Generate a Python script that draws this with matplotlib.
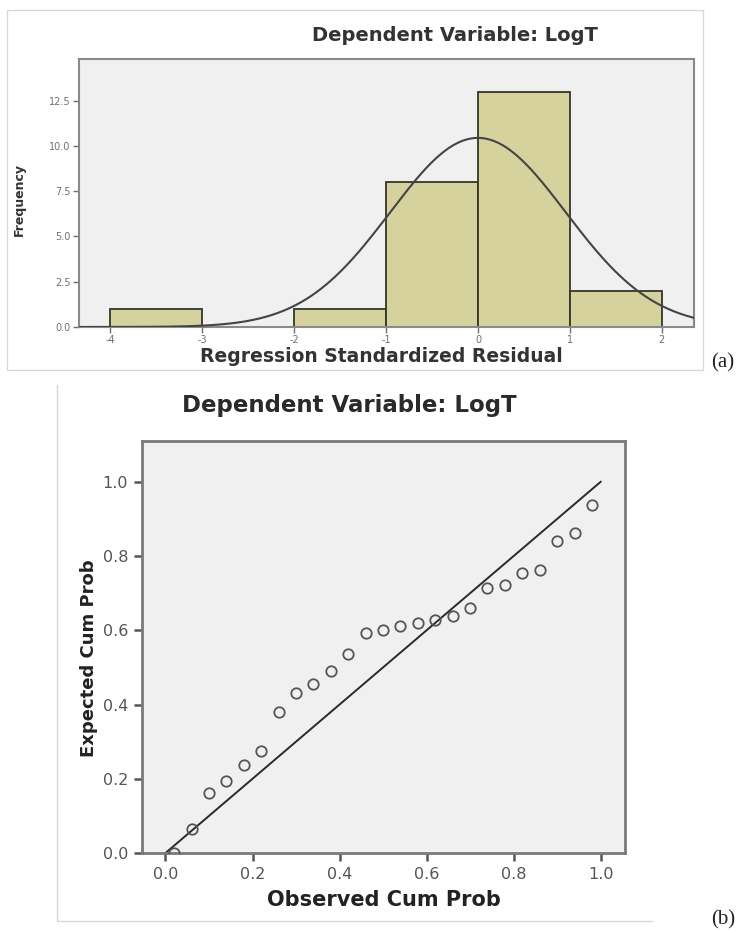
import numpy as np
import matplotlib
matplotlib.use("Agg")
import matplotlib.pyplot as plt
from matplotlib.patches import Rectangle
from matplotlib.lines import Line2D

# (a) histogram of standardized residuals
bin_edges = [-4, -3, -2, -1, 0, 1, 2]
bin_counts = [1, 0, 1, 8, 13, 2]
resid_mean = 0.0
resid_std = 0.955
n_obs = 25
hist_xticks = [-4, -3, -2, -1, 0, 1, 2]
hist_yticks = [0.0, 2.5, 5.0, 7.5, 10.0, 12.5]

# (b) normal P-P plot
observed = [0.02, 0.06, 0.10, 0.14, 0.18, 0.22, 0.26, 0.30, 0.34, 0.38, 0.42, 0.46, 0.50,
            0.54, 0.58, 0.62, 0.66, 0.70, 0.74, 0.78, 0.82, 0.86, 0.90, 0.94, 0.98]
expected = [0.0, 0.066, 0.162, 0.195, 0.236, 0.274, 0.379, 0.431, 0.454, 0.491, 0.537, 0.593, 0.602,
            0.611, 0.620, 0.627, 0.638, 0.660, 0.714, 0.723, 0.755, 0.762, 0.840, 0.861, 0.937]
pp_ticks = [0.0, 0.2, 0.4, 0.6, 0.8, 1.0]

W, H = 743, 933
fig = plt.figure(figsize=(W / 100, H / 100), dpi=100)
fig.patch.set_facecolor("white")

# ---- panel (a)
ax1 = fig.add_axes([79 / W, (H - 327) / H, 615 / W, 268 / H])
ax1.set_facecolor("#f0f0f0")
widths = np.diff(bin_edges)
ax1.bar(bin_edges[:-1], bin_counts, width=widths, align="edge",
        color="#d6d29e", edgecolor="#35352a", linewidth=1.3, zorder=2)
xs = np.linspace(-4.34, 2.35, 400)
ys = n_obs * 1.0 * np.exp(-0.5 * ((xs - resid_mean) / resid_std) ** 2) / (resid_std * np.sqrt(2 * np.pi))
ax1.plot(xs, ys, color="#444444", linewidth=1.5, zorder=3)
ax1.set_xlim(-4.34, 2.35)
ax1.set_ylim(0, 14.8)
ax1.set_xticks(hist_xticks)
ax1.set_xticklabels([str(t) for t in hist_xticks])
ax1.set_yticks(hist_yticks)
ax1.set_yticklabels([f"{t:.1f}" for t in hist_yticks])
ax1.tick_params(labelsize=7, colors="#707070", length=4, width=1, pad=2)
for s in ax1.spines.values():
    s.set_color("#8a8a8a")
    s.set_linewidth(1.5)

fig.text(455 / W, 1 - 41 / H, "Dependent Variable: LogT", fontsize=14, fontweight="bold",
         color="#333333", ha="center", va="baseline")
fig.text(200 / W, 1 - 357 / H, "Regression Standardized Residual", fontsize=13.5,
         fontweight="bold", color="#333333", ha="left", va="center")
fig.text(19 / W, 1 - 200 / H, "Frequency", fontsize=9, fontweight="bold", color="#333333",
         rotation=90, ha="center", va="center")
fig.text(723 / W, 1 - 363 / H, "(a)", fontsize=15, family="Liberation Serif",
         ha="center", va="center", color="#222222")
fig.add_artist(Rectangle((7 / W, 1 - 370 / H), 696 / W, 360 / H, transform=fig.transFigure,
                         fill=False, edgecolor="#d8d8d8", linewidth=1))

# ---- panel (b)
ax2 = fig.add_axes([142 / W, (H - 853) / H, 483 / W, 412 / H])
ax2.set_facecolor("#f0f0f0")
ax2.plot([0, 1], [0, 1], color="#2a2a2a", linewidth=1.4, zorder=2)
ax2.plot(observed, expected, linestyle="none", marker="o", markersize=7.5,
         markerfacecolor="none", markeredgecolor="#555555", markeredgewidth=1.3, zorder=3)
ax2.set_xlim(-0.054, 1.056)
ax2.set_ylim(0, 1.11)
ax2.set_xticks(pp_ticks)
ax2.set_xticklabels([f"{t:.1f}" for t in pp_ticks])
ax2.set_yticks(pp_ticks)
ax2.set_yticklabels([f"{t:.1f}" for t in pp_ticks])
ax2.tick_params(labelsize=11.5, colors="#555555", length=6, width=1.8, pad=4)
for s in ax2.spines.values():
    s.set_color("#7a7a7a")
    s.set_linewidth(2)

fig.text(349 / W, 1 - 412 / H, "Dependent Variable: LogT", fontsize=16.5, fontweight="bold",
         color="#2a2a2a", ha="center", va="baseline")
fig.text(384 / W, 1 - 900 / H, "Observed Cum Prob", fontsize=15, fontweight="bold",
         color="#222222", ha="center", va="center")
fig.text(89 / W, 1 - 658 / H, "Expected Cum Prob", fontsize=13, fontweight="bold",
         color="#222222", rotation=90, ha="center", va="center")
fig.text(723 / W, 1 - 920 / H, "(b)", fontsize=15, family="Liberation Serif",
         ha="center", va="center", color="#222222")
fig.add_artist(Line2D([57 / W, 57 / W, 652 / W], [1 - 385 / H, 1 - 921 / H, 1 - 921 / H],
                      transform=fig.transFigure, color="#d8d8d8", linewidth=1))

fig.savefig("out.png", dpi=100)
plt.close(fig)
